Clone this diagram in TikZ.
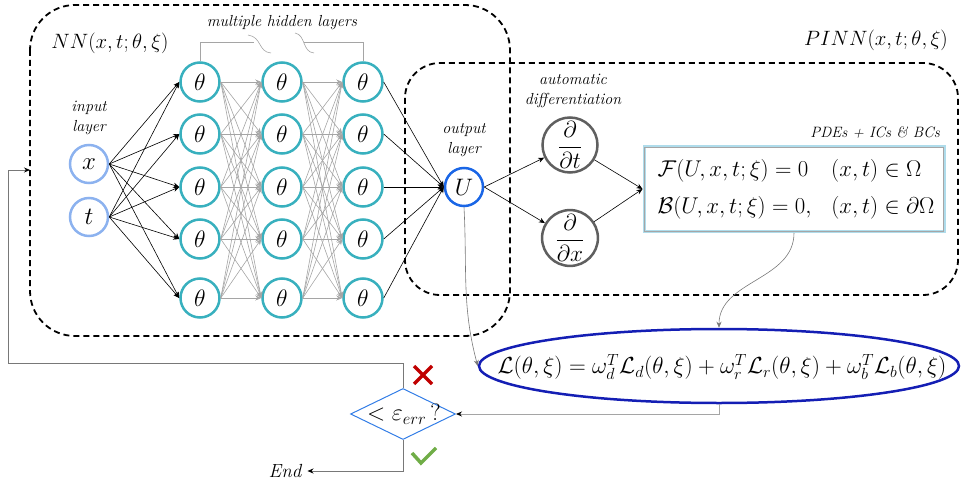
\documentclass[tikz,border=0pt]{standalone}
\usepackage{graphicx}
\usetikzlibrary{shapes.geometric,arrows.meta,calc}
\definecolor{teal1}{RGB}{56,176,190}
\definecolor{inblue}{RGB}{140,178,239}
\definecolor{ublue}{RGB}{26,102,230}
\definecolor{dgray}{RGB}{95,95,95}
\definecolor{ellblue}{RGB}{20,30,180}
\definecolor{diablue}{RGB}{50,125,230}
\definecolor{boxblue}{RGB}{175,220,235}
\definecolor{egray}{RGB}{165,165,165}
\definecolor{lgray}{RGB}{120,120,120}
\definecolor{xred}{RGB}{192,0,0}
\definecolor{okgreen}{RGB}{112,173,71}
\newcommand\myscm[2]{\scalebox{#1}{$#2$}}
\begin{document}
\begin{tikzpicture}[x=1pt,y=-1pt,
  mathfont/.style={font=\fontsize{20}{24}\selectfont},
  lab/.style={font=\fontsize{16}{20}\selectfont\itshape,align=center,inner sep=0pt},
  hid/.style={circle,draw=teal1,line width=2.5pt,minimum size=39pt,inner sep=0pt,mathfont},
  inp/.style={circle,draw=inblue,line width=2.5pt,minimum size=38pt,inner sep=0pt,mathfont},
  outn/.style={circle,draw=ublue,line width=2.5pt,minimum size=38pt,inner sep=0pt,mathfont},
  dern/.style={circle,draw=dgray,line width=2.5pt,minimum size=55pt,inner sep=0pt,mathfont},
  dbox/.style={draw=black,line width=1.8pt,dash pattern=on 6pt off 4pt},
  blk/.style={black,line width=0.6pt,-{Stealth[length=6pt,width=5pt]}},
  gry/.style={egray,line width=0.6pt,-{Stealth[length=6pt,width=5pt]}},
  conn/.style={lgray,line width=0.8pt,-{Stealth[length=6pt,width=5pt,black]}}
]
\useasboundingbox (0,0) rectangle (962,487);

% dashed boxes
\draw[dbox,rounded corners=45pt] (30,5) rectangle (510,336);
\draw[dbox,rounded corners=35pt] (405,63) rectangle (958,295);

% labels
\node[mathfont] (nnlab) at (110,43) {$NN(x,t;\theta,\xi)$};
\node[mathfont] (pinnlab) at (876,40) {$PINN(x,t;\theta,\xi)$};
\node[lab] (mhl) at (282,23) {multiple hidden layers};
\node[lab] (inlab) at (89,118) {input\\layer};
\node[lab] (outlab) at (464,140) {output\\layer};
\node[lab] (adlab) at (573,91) {automatic\\differentiation};
\node[lab,anchor=east,font=\fontsize{15}{18}\selectfont\itshape] (pdelab) at (940,133) {PDEs + ICs \& BCs};

% input nodes
\node[inp] (x) at (89,164) {\myscm{1.2}{x}};
\node[inp] (t) at (89,217) {\myscm{1.2}{t}};

% hidden layers
\foreach \i/\y in {1/82,2/134,3/187,4/239,5/298} {
  \node[hid] (a\i) at (200,\y) {\myscm{1.15}{\theta}};
  \node[hid] (b\i) at (282,\y) {\myscm{1.15}{\theta}};
  \node[hid] (c\i) at (363,\y) {\myscm{1.15}{\theta}};
}

% output node
\node[outn] (U) at (464,187) {\myscm{1.15}{U}};

% derivative nodes
\node[dern] (dt) at (570,145) {\myscm{1.12}{\displaystyle\frac{\partial}{\partial t}}};
\node[dern] (dx) at (570,238) {\myscm{1.12}{\displaystyle\frac{\partial}{\partial x}}};

% PDE box
\node[draw=boxblue,line width=3pt,minimum width=300pt,minimum height=85pt,inner sep=0pt] (pde) at (794,189) {};
\draw[gray!70,line width=0.6pt] ($(pde.south west)+(1.8,-1.8)$) rectangle ($(pde.north east)+(-1.8,1.8)$);
\node[mathfont,inner sep=0pt] (pdetxt) at (796,190)
  {\myscm{1.1}{\begin{array}{@{}l@{\hspace{18pt}}l@{}}
     \mathcal{F}(U,x,t;\xi)=0 & (x,t)\in\Omega\\[10pt]
     \mathcal{B}(U,x,t;\xi)=0, & (x,t)\in\partial\Omega
   \end{array}}};

% loss ellipse
\node[ellipse,draw=ellblue,line width=2.5pt,minimum width=480pt,minimum height=74pt,inner sep=0pt] (loss) at (719,366) {};
\node[mathfont,inner sep=0pt] (losstxt) at (722,367)
  {\myscm{1.12}{\mathcal{L}(\theta,\xi)=\omega_d^T\mathcal{L}_d(\theta,\xi)+\omega_r^T\mathcal{L}_r(\theta,\xi)+\omega_b^T\mathcal{L}_b(\theta,\xi)}};

% decision
\node[diamond,draw=diablue,line width=1pt,minimum width=105pt,minimum height=51pt,inner sep=0pt] (dec) at (403,414) {};
\node[mathfont,inner sep=0pt] (dectxt) at (404,414) {\myscm{1.15}{<\varepsilon_{err}\,?}};

\node[font=\fontsize{19}{22}\selectfont\itshape,inner sep=6pt] (end) at (285,471) {End};

% bracket for hidden layers
\draw[egray,line width=0.8pt] (a1.north) -- (200,42) -- (254,42);
\draw[egray,line width=0.6pt] (248,35) .. controls (262,37) and (258,52) .. (271,53);
\draw[egray,line width=0.8pt] (c1.north) -- (363,42) -- (304,42);
\draw[egray,line width=0.6pt] (295,33) .. controls (306,35) and (302,52) .. (314,53);

% network edges
\foreach \i in {1,...,5} {
  \draw[blk] (x.east) -- (a\i.west);
  \draw[blk] (t.east) -- (a\i.west);
  \foreach \j in {1,...,5} {
    \draw[gry] (a\i.east) -- (b\j.west);
    \draw[gry] (b\i.east) -- (c\j.west);
  }
  \draw[blk] (c\i.east) -- (U.west);
}

% automatic differentiation
\draw[blk] (U.east) -- (dt);
\draw[blk] (U.east) -- (dx);
\draw[blk] (dt) -- (pde.west);
\draw[blk] (dx) -- (pde.west);

% to loss
\draw[blk,lgray] (U.south) to[out=-87,in=105] (loss.west);
\draw[blk,lgray] (pde.south) to[out=-90,in=90] (loss.north);
\draw[conn,egray] (loss.south) |- (dec.east);

% feedback loop
\coordinate (nnin) at (30,170);
\coordinate (fb1) at (403,363);
\coordinate (fb2) at (8,363);
\coordinate (fb3) at (8,170);
\draw[conn] (dec.north) -- (fb1) -- (fb2) -- (fb3) -- (nnin);
\draw[conn] (dec.south) |- (end.east);

% marks
\draw[xred,line width=3.5pt] (414,366) -- (432,384) (432,366) -- (414,384);
\draw[okgreen,line width=3.5pt] (412,453) -- (421,463) -- (436,448);
\end{tikzpicture}
\end{document}
